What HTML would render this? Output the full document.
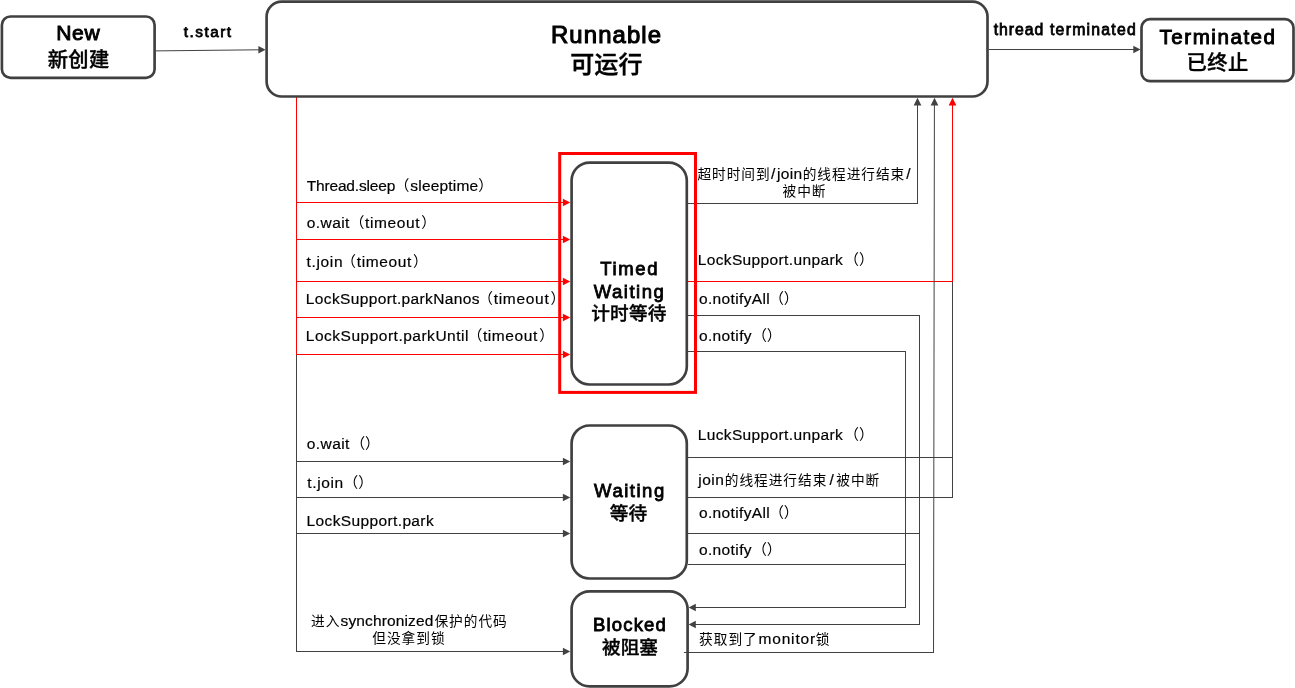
<!DOCTYPE html>
<html lang="zh-CN">
<head>
<meta charset="utf-8">
<title>Java 线程状态 Thread States</title>
<style>
html,body{margin:0;padding:0;background:#fff;}
body{width:1295px;height:688px;overflow:hidden;position:relative;}
svg{position:absolute;left:0;top:0;display:block;will-change:transform;}
text{font-family:"Liberation Sans","Noto Sans CJK SC",sans-serif;fill:#000;white-space:pre;}
.box{fill:none;stroke:#404040;stroke-width:2.67;}
.g{stroke:#424242;stroke-width:1;fill:none;}
.r{stroke:#ff0000;stroke-width:1;fill:none;}
.ga{fill:#424242;stroke:none;}
.ra{fill:#ff0000;stroke:none;}
</style>
</head>
<body>
<svg width="1295" height="688" viewBox="0 0 1295 688">
<!-- connectors -->
<g shape-rendering="crispEdges">
<path class="r" d="M296.5 96V354.5"/>
<path class="g" d="M296.5 355V652"/>
<path class="r" d="M296 202.5H564M296 239.5H564M296 281.5H564M296 317.5H564M296 354.5H564"/>
<path class="g" d="M296 461.5H564M296 497.5H564M296 533.5H564M296 651.5H564"/>
<path class="g" d="M688 203.5H917.5V104"/>
<path class="g" d="M688 315.5H919.5V624.5H695"/>
<path class="g" d="M688 351.5H905.5V607.5H695"/>
<path class="g" d="M688 533.5H920M688 564.5H906"/>
<path class="g" d="M934 652.5H684"/>
<path class="g" d="M952.5 282V497.5H688M688 457.5H952"/>
<path class="r" d="M688 281.5H952.5V104"/>
<path class="g" d="M989 49.5H1134"/>
</g>
<path class="g" d="M156 50.9L259 49.8"/>
<path class="g" d="M934.42 104L933.52 653"/>
<!-- arrowheads -->
<g class="ra">
<path d="M570.3 202.5l-7.4-3.8v7.6z"/>
<path d="M570.3 239.5l-7.4-3.8v7.6z"/>
<path d="M570.3 281.5l-7.4-3.8v7.6z"/>
<path d="M570.3 317.5l-7.4-3.8v7.6z"/>
<path d="M570.3 354.5l-7.4-3.8v7.6z"/>
<path d="M952.5 97.7l-3.9 7.7h7.8z"/>
</g>
<g class="ga">
<path d="M570.3 461.5l-7.4-3.8v7.6z"/>
<path d="M570.3 497.5l-7.4-3.8v7.6z"/>
<path d="M570.3 533.5l-7.4-3.8v7.6z"/>
<path d="M570.3 651.5l-7.4-3.8v7.6z"/>
<path d="M917.5 97.7l-3.9 7.7h7.8z"/>
<path d="M934.5 97.7l-3.9 7.7h7.8z"/>
<path d="M688.6 607.5l7.2-3.7v7.4z"/>
<path d="M688.6 624.5l7.2-3.7v7.4z"/>
<path d="M265.6 49.7l-7.2-3.7v7.4z"/>
<path d="M1140.5 49.5l-7.2-3.7v7.4z"/>
</g>
<!-- state boxes -->
<rect class="box" x="1.9" y="16.5" width="152.7" height="61.3" rx="8.5"/>
<rect class="box" x="266.6" y="1.7" width="720.9" height="94.8" rx="15"/>
<rect class="box" x="1141.5" y="19.2" width="152" height="61.9" rx="8.5"/>
<rect class="box" x="571.6" y="162.6" width="115.2" height="221.9" rx="18"/>
<rect class="box" x="571.6" y="425.5" width="115.2" height="153" rx="18"/>
<rect class="box" x="571.6" y="591.4" width="116" height="95" rx="18"/>
<!-- labels -->
<text x="56.13" y="40.46" style="font-size:21.10px;font-weight:400;letter-spacing:0.715px;stroke:#000;stroke-width:0.95px;">New</text>
<text x="47.75" y="66.52" style="font-size:20.30px;font-weight:500;letter-spacing:0.299px;stroke:#000;stroke-width:0.37px;">新创建</text>
<text x="550.97" y="43.33" style="font-size:23.90px;font-weight:400;letter-spacing:1.119px;stroke:#000;stroke-width:1.08px;">Runnable</text>
<text x="570.19" y="72.54" style="font-size:24.00px;font-weight:500;letter-spacing:0.173px;stroke:#000;stroke-width:0.43px;">可运行</text>
<text x="1159.54" y="43.57" style="font-size:20.60px;font-weight:400;letter-spacing:1.516px;stroke:#000;stroke-width:0.93px;">Terminated</text>
<text x="1186.40" y="69.57" style="font-size:20.30px;font-weight:500;letter-spacing:0.534px;stroke:#000;stroke-width:0.37px;">已终止</text>
<text x="600.13" y="275.09" style="font-size:18.50px;font-weight:400;letter-spacing:1.696px;stroke:#000;stroke-width:0.83px;">Timed</text>
<text x="593.71" y="297.59" style="font-size:18.50px;font-weight:400;letter-spacing:1.518px;stroke:#000;stroke-width:0.83px;">Waiting</text>
<text x="591.29" y="319.80" style="font-size:18.67px;font-weight:500;letter-spacing:0.149px;stroke:#000;stroke-width:0.34px;">计时等待</text>
<text x="594.11" y="497.19" style="font-size:18.50px;font-weight:400;letter-spacing:1.518px;stroke:#000;stroke-width:0.83px;">Waiting</text>
<text x="609.68" y="520.00" style="font-size:18.67px;font-weight:500;letter-spacing:0.295px;stroke:#000;stroke-width:0.34px;">等待</text>
<text x="593.07" y="631.49" style="font-size:18.50px;font-weight:400;letter-spacing:1.156px;stroke:#000;stroke-width:0.83px;">Blocked</text>
<text x="601.98" y="654.00" style="font-size:18.67px;font-weight:500;letter-spacing:0.013px;stroke:#000;stroke-width:0.34px;">被阻塞</text>
<text x="183.78" y="36.61" style="font-size:15.30px;font-weight:400;letter-spacing:1.503px;stroke:#000;stroke-width:0.77px;">t.start</text>
<text y="35.00"><tspan x="993.69" style="font-size:15.80px;font-weight:400;letter-spacing:0.959px;stroke:#000;stroke-width:0.79px;">thread</tspan> <tspan x="1049.99" style="font-size:15.80px;font-weight:400;letter-spacing:1.239px;stroke:#000;stroke-width:0.79px;">terminated</tspan></text>
<text y="190.95"><tspan x="306.66" style="font-size:15.50px;font-weight:400;letter-spacing:-0.155px;stroke:#000;stroke-width:0.20px;">Thread.sleep</tspan><tspan x="394.80" style="font-size:14.67px;font-weight:400;">（</tspan><tspan x="410.36" style="font-size:15.50px;font-weight:400;letter-spacing:0.192px;stroke:#000;stroke-width:0.20px;">sleeptime</tspan><tspan x="478.28" style="font-size:14.67px;font-weight:400;">）</tspan></text>
<text y="227.95"><tspan x="306.82" style="font-size:15.50px;font-weight:400;letter-spacing:0.408px;stroke:#000;stroke-width:0.20px;">o.wait</tspan><tspan x="349.70" style="font-size:14.67px;font-weight:400;">（</tspan><tspan x="365.00" style="font-size:15.50px;font-weight:400;letter-spacing:0.603px;stroke:#000;stroke-width:0.20px;">timeout</tspan><tspan x="421.18" style="font-size:14.67px;font-weight:400;">）</tspan></text>
<text y="266.95"><tspan x="306.60" style="font-size:15.50px;font-weight:400;letter-spacing:0.646px;stroke:#000;stroke-width:0.20px;">t.join</tspan><tspan x="341.20" style="font-size:14.67px;font-weight:400;">（</tspan><tspan x="356.80" style="font-size:15.50px;font-weight:400;letter-spacing:0.603px;stroke:#000;stroke-width:0.20px;">timeout</tspan><tspan x="413.08" style="font-size:14.67px;font-weight:400;">）</tspan></text>
<text y="303.95"><tspan x="305.79" style="font-size:15.50px;font-weight:400;letter-spacing:0.370px;stroke:#000;stroke-width:0.20px;">LockSupport.parkNanos</tspan><tspan x="478.35" style="font-size:14.67px;font-weight:400;">（</tspan><tspan x="493.70" style="font-size:15.50px;font-weight:400;letter-spacing:0.703px;stroke:#000;stroke-width:0.20px;">timeout</tspan><tspan x="550.38" style="font-size:14.67px;font-weight:400;">）</tspan></text>
<text y="340.95"><tspan x="305.79" style="font-size:15.50px;font-weight:400;letter-spacing:0.507px;stroke:#000;stroke-width:0.20px;">LockSupport.parkUntil</tspan><tspan x="467.75" style="font-size:14.67px;font-weight:400;">（</tspan><tspan x="482.90" style="font-size:15.50px;font-weight:400;letter-spacing:0.603px;stroke:#000;stroke-width:0.20px;">timeout</tspan><tspan x="539.18" style="font-size:14.67px;font-weight:400;">）</tspan></text>
<text y="448.95"><tspan x="306.82" style="font-size:15.50px;font-weight:400;letter-spacing:0.408px;stroke:#000;stroke-width:0.20px;">o.wait</tspan><tspan x="350.43" style="font-size:14.67px;font-weight:400;">（）</tspan></text>
<text y="487.95"><tspan x="307.30" style="font-size:15.50px;font-weight:400;letter-spacing:0.626px;stroke:#000;stroke-width:0.20px;">t.join</tspan><tspan x="343.48" style="font-size:14.67px;font-weight:400;">（）</tspan></text>
<text x="306.59" y="525.95" style="font-size:15.50px;font-weight:400;letter-spacing:0.372px;stroke:#000;stroke-width:0.20px;">LockSupport.park</text>
<text y="626.00"><tspan x="311.02" style="font-size:13.70px;font-weight:400;letter-spacing:0.970px;">进入</tspan><tspan x="340.56" style="font-size:15.50px;font-weight:400;letter-spacing:0.135px;stroke:#000;stroke-width:0.20px;">synchronized</tspan><tspan x="434.42" style="font-size:13.70px;font-weight:400;letter-spacing:0.970px;">保护的代码</tspan></text>
<text x="372.27" y="643.00" style="font-size:13.70px;font-weight:400;letter-spacing:0.970px;">但没拿到锁</text>
<text y="179.20"><tspan x="697.39" style="font-size:13.70px;font-weight:400;letter-spacing:0.970px;">超时时间到</tspan><tspan x="770.97" style="font-size:15.50px;font-weight:400;stroke:#000;stroke-width:0.20px;">/</tspan><tspan x="776.98" style="font-size:15.50px;font-weight:400;letter-spacing:0.353px;stroke:#000;stroke-width:0.20px;">join</tspan><tspan x="802.67" style="font-size:13.70px;font-weight:400;letter-spacing:0.970px;">的线程进行结束</tspan><tspan x="906.27" style="font-size:15.50px;font-weight:400;stroke:#000;stroke-width:0.20px;">/</tspan></text>
<text x="782.54" y="196.10" style="font-size:13.70px;font-weight:400;letter-spacing:0.970px;">被中断</text>
<text y="264.95"><tspan x="697.69" style="font-size:15.50px;font-weight:400;letter-spacing:0.367px;stroke:#000;stroke-width:0.20px;">LockSupport.unpark</tspan><tspan x="844.28" style="font-size:14.67px;font-weight:400;">（）</tspan></text>
<text y="303.95"><tspan x="698.92" style="font-size:15.50px;font-weight:400;letter-spacing:0.371px;stroke:#000;stroke-width:0.20px;">o.notifyAll</tspan><tspan x="769.13" style="font-size:14.67px;font-weight:400;">（）</tspan></text>
<text y="340.95"><tspan x="698.92" style="font-size:15.50px;font-weight:400;letter-spacing:0.387px;stroke:#000;stroke-width:0.20px;">o.notify</tspan><tspan x="752.18" style="font-size:14.67px;font-weight:400;">（）</tspan></text>
<text y="439.95"><tspan x="697.69" style="font-size:15.50px;font-weight:400;letter-spacing:0.367px;stroke:#000;stroke-width:0.20px;">LuckSupport.unpark</tspan><tspan x="844.28" style="font-size:14.67px;font-weight:400;">（）</tspan></text>
<text y="485.05"><tspan x="698.28" style="font-size:15.50px;font-weight:400;letter-spacing:0.486px;stroke:#000;stroke-width:0.20px;">join</tspan><tspan x="724.72" style="font-size:13.70px;font-weight:400;letter-spacing:0.970px;">的线程进行结束</tspan><tspan x="829.52" style="font-size:15.50px;font-weight:400;stroke:#000;stroke-width:0.20px;">/</tspan><tspan x="836.24" style="font-size:13.70px;font-weight:400;letter-spacing:0.970px;">被中断</tspan></text>
<text y="517.95"><tspan x="698.92" style="font-size:15.50px;font-weight:400;letter-spacing:0.371px;stroke:#000;stroke-width:0.20px;">o.notifyAll</tspan><tspan x="769.13" style="font-size:14.67px;font-weight:400;">（）</tspan></text>
<text y="554.95"><tspan x="698.92" style="font-size:15.50px;font-weight:400;letter-spacing:0.387px;stroke:#000;stroke-width:0.20px;">o.notify</tspan><tspan x="752.18" style="font-size:14.67px;font-weight:400;">（）</tspan></text>
<text y="644.00"><tspan x="699.12" style="font-size:13.70px;font-weight:400;letter-spacing:0.970px;">获取到了</tspan><tspan x="758.43" style="font-size:15.50px;font-weight:400;letter-spacing:0.843px;stroke:#000;stroke-width:0.20px;">monitor</tspan><tspan x="815.75" style="font-size:13.70px;font-weight:400;">锁</tspan></text>
<!-- highlight frame -->
<rect x="559.7" y="153.5" width="135.8" height="238.9" fill="none" stroke="#ff0000" stroke-width="3"/>
</svg>
</body>
</html>
